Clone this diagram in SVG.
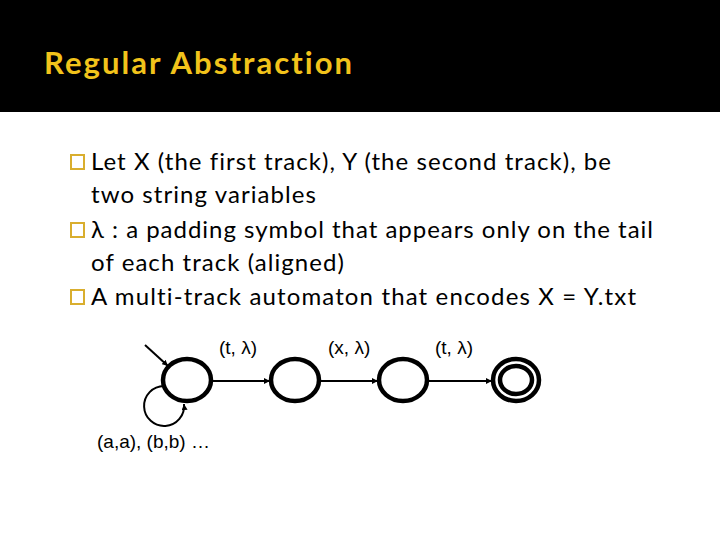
<svg xmlns="http://www.w3.org/2000/svg" width="720" height="540" viewBox="0 0 720 540">
<defs>
<style>
.title{font-family:Lato,"Open Sans","Liberation Sans",sans-serif;font-weight:bold;font-size:31px;fill:#F2C31B;font-variant-ligatures:none}
.body{font-family:Lato,"Open Sans","Liberation Sans",sans-serif;font-size:24px;fill:#000;font-variant-ligatures:none}
.lbl{font-family:"Liberation Sans",Arial,sans-serif;font-size:19px;fill:#000}
.bul{fill:none;stroke:#D9AE2E;stroke-width:2}
.st{fill:#fff;stroke:#000;stroke-width:4.5}
.edge{fill:none;stroke:#000;stroke-width:2}
</style>
<marker id="ah" viewBox="0 0 10 10" refX="10" refY="5" markerWidth="6" markerHeight="6" orient="auto" markerUnits="userSpaceOnUse">
<path d="M0,0 L10,5 L0,10 z" fill="#000"/>
</marker>
</defs>
<rect x="0" y="0" width="720" height="540" fill="#fff"/>
<rect x="0" y="0" width="720" height="112" fill="#000"/>
<text class="title" x="44" y="74" textLength="308">Regular Abstraction</text>
<g id="bullets">
<rect class="bul" x="71" y="155" width="13" height="14"/>
<rect class="bul" x="71" y="223" width="13" height="14"/>
<rect class="bul" x="71" y="290" width="13" height="14"/>
<text class="body" x="91" y="170" textLength="520">Let X (the first track), Y (the second track), be</text>
<text class="body" x="91" y="203" textLength="225">two string variables</text>
<text class="body" x="91" y="238" textLength="562">λ : a padding symbol that appears only on the tail</text>
<text class="body" x="91" y="271" textLength="253">of each track (aligned)</text>
<text class="body" x="91" y="305" textLength="545">A multi-track automaton that encodes X = Y.txt</text>
</g>
<g id="connectors">
<line class="edge" x1="145" y1="345" x2="168" y2="366" marker-end="url(#ah)"/>
<path class="edge" d="M164,386 A20,20 0 1,0 184,404" marker-end="url(#ah)"/>
<line class="edge" x1="212" y1="381" x2="270" y2="381" marker-end="url(#ah)"/>
<line class="edge" x1="320" y1="381" x2="378" y2="381" marker-end="url(#ah)"/>
<line class="edge" x1="428" y1="381" x2="492" y2="381" marker-end="url(#ah)"/>
<text class="lbl" x="219" y="354">(t, λ)</text>
<text class="lbl" x="328" y="354">(x, λ)</text>
<text class="lbl" x="435" y="354">(t, λ)</text>
<text class="lbl" x="97" y="448">(a,a), (b,b) …</text>
</g>
<g id="s0"><ellipse class="st" cx="187" cy="380" rx="24" ry="21"/></g>
<g id="s1"><ellipse class="st" cx="295" cy="380" rx="24" ry="21"/></g>
<g id="s2"><ellipse class="st" cx="403" cy="380" rx="24" ry="21"/></g>
<g id="s3">
<ellipse class="st" cx="516" cy="380" rx="23" ry="21"/>
<ellipse class="st" cx="516" cy="380" rx="16" ry="14" stroke-width="3.5"/>
</g>
</svg>
